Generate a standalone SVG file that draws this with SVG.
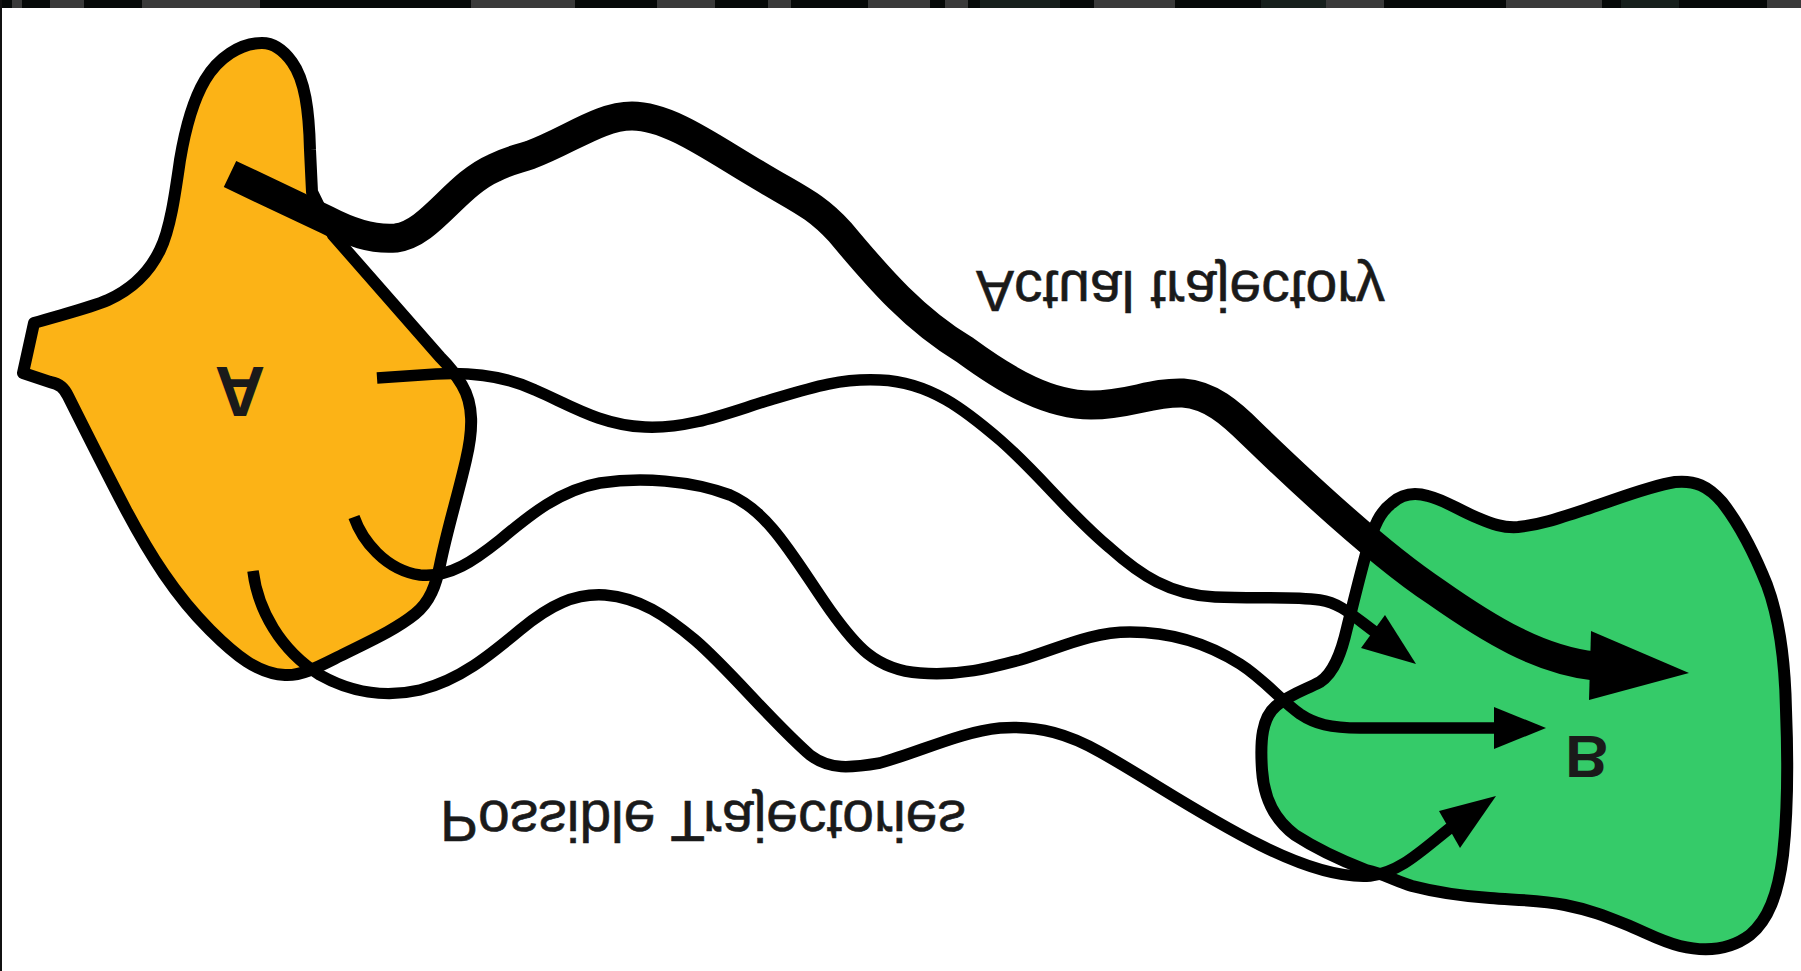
<svg xmlns="http://www.w3.org/2000/svg" width="1801" height="971" viewBox="0 0 1801 971">
<style>
.blob{stroke:#000;stroke-width:12;stroke-linejoin:round}
.thin{fill:none;stroke:#000;stroke-width:11.5;stroke-linecap:butt;stroke-linejoin:round}
.thick{fill:none;stroke:#000;stroke-width:29;stroke-linecap:butt;stroke-linejoin:round}
.head{fill:#000}
.lbl{font-family:"Liberation Sans",Arial,sans-serif;fill:#1a1a1a;font-size:57px;stroke:#1a1a1a;stroke-width:0.6}
.big{font-family:"Liberation Sans",Arial,sans-serif;fill:#1a1a1a;font-weight:bold;text-anchor:middle}
</style>
<rect x="0" y="0" width="1801" height="971" fill="#fff"/>
<g id="topband">
<rect x="0" y="0" width="1801" height="8" fill="#060908"/>
<g fill="#3a3a3a">
<rect x="12" y="0" width="10" height="8"/><rect x="50" y="0" width="34" height="8"/>
<rect x="142" y="0" width="118" height="8"/><rect x="471" y="0" width="104" height="8"/>
<rect x="657" y="0" width="58" height="8"/><rect x="768" y="0" width="23" height="8"/>
<rect x="868" y="0" width="62" height="8"/><rect x="945" y="0" width="23" height="8"/>
<rect x="1094" y="0" width="81" height="8"/><rect x="1326" y="0" width="58" height="8"/>
<rect x="1506" y="0" width="96" height="8"/><rect x="1767" y="0" width="34" height="8"/>
</g>
<g fill="#17201d">
<rect x="980" y="0" width="80" height="8"/><rect x="1261" y="0" width="65" height="8"/><rect x="1621" y="0" width="58" height="8"/>
</g>
<rect x="0" y="0" width="2" height="971" fill="#111"/>
</g>
<g id="nodeA">
<path class="blob" fill="#FCB316" d="M312,192 L310,150 C309,110 305,80 292,62 C282,48 272,43 262,43 C240,43 218,58 205,80 C192,102 185,130 180,160 C175,195 170,230 160,250 C148,275 130,290 108,300 C90,308 60,315 34,323 L23,373 L50,382 C60,384 64,388 68,396 C85,430 105,470 126,510 C150,555 175,595 210,630 C235,655 258,674 285,675 C302,676 320,666 340,656 C370,641 395,630 415,614 C430,602 436,585 440,565 C447,530 458,495 466,460 C473,430 474,405 462,385 C455,373 450,367 440,357 L333,235 Z"/>
<text class="big" font-size="70" transform="translate(240,367) scale(1,-1)">A</text>
</g>
<g id="nodeB">
<path class="blob" fill="#35CB69" d="M1392,503 C1402,494 1414,492 1428,496 C1445,500 1458,510 1478,518 C1492,524 1503,528 1518,527 C1540,525 1560,518 1590,508 C1620,498 1650,486 1675,482 C1695,480 1708,486 1722,502 C1740,525 1755,555 1767,585 C1780,620 1785,660 1786,710 C1788,760 1788,810 1783,855 C1778,895 1768,920 1750,935 C1730,950 1705,952 1680,946 C1660,941 1645,932 1625,924 C1605,916 1590,910 1565,905 C1540,900 1515,900 1490,898 C1460,896 1435,892 1412,886 C1395,881 1385,874 1366,870 C1340,860 1315,848 1295,835 C1275,820 1264,800 1262,770 C1260,740 1262,718 1276,706 C1290,694 1305,690 1320,682 C1335,672 1342,650 1347,628 C1354,600 1360,575 1367,550 C1374,525 1380,512 1392,503 Z"/>
<text class="big" font-size="60" transform="translate(1587,736) scale(1,-1)">B</text>
</g>
<g id="connectors">
<path class="thick" d="M230,174 L327,220 C350,232 372,240 396,238 C430,234 455,185 494,168 C510,160 515,160 530,155 C570,140 600,116 632,116 C670,116 715,150 760,176 C800,200 815,205 840,232 C880,280 915,320 965,350 C1010,383 1050,405 1091,405 C1130,405 1150,392 1183,393 C1210,395 1230,412 1252,434 C1310,490 1380,555 1436,592 C1490,630 1540,660 1595,666"/>
<polygon class="head" points="1689,673 1591,631 1589,700"/>
<path class="thin" d="M377,378 L436,374 C470,372 505,376 535,390 C570,405 600,425 645,427 C690,429 730,412 770,400 C810,388 840,378 880,380 C930,382 965,410 1000,440 C1040,475 1070,515 1110,548 C1140,575 1170,595 1215,597 C1260,599 1290,596 1320,600 C1340,603 1352,615 1375,632"/>
<polygon class="head" points="1416,664 1385,615 1361,648"/>
<path class="thin" d="M354,517 C362,540 385,570 420,575 C450,578 475,560 500,540 C530,515 560,490 600,483 C640,477 690,480 730,495 C770,512 795,560 830,610 C855,645 875,670 920,673 C960,676 990,668 1020,660 C1060,648 1090,632 1130,632 C1175,632 1210,645 1240,664 C1265,680 1280,700 1300,714 C1315,724 1330,728 1360,728 L1496,728"/>
<polygon class="head" points="1546,728 1494,707 1494,749"/>
<path class="thin" d="M253,571 C258,610 280,650 320,675 C350,692 385,698 420,690 C460,680 490,655 520,630 C550,605 575,593 605,595 C640,598 665,615 695,640 C730,670 770,720 810,755 C830,770 850,768 880,763 C920,752 960,732 1000,728 C1040,725 1070,735 1100,752 C1150,780 1200,815 1260,845 C1300,865 1340,878 1370,876 C1400,872 1420,852 1450,828"/>
<polygon class="head" points="1496,796 1439,811 1460,848"/>
</g>
<g id="labels">
<text class="lbl" transform="translate(976,271) scale(1,-1)">Actual trajectory</text>
<text class="lbl" transform="translate(440,801) scale(1,-1)">Possible Trajectories</text>
</g>
</svg>
